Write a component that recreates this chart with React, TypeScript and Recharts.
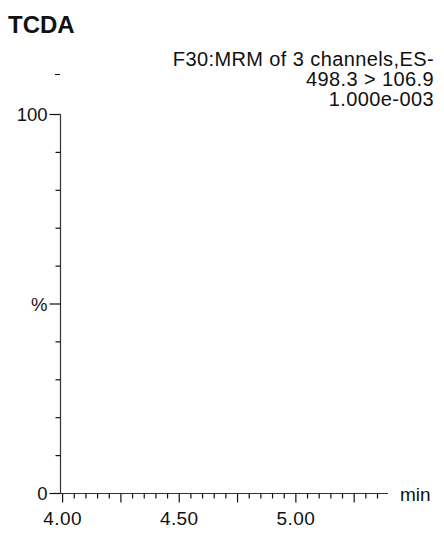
import { LineChart, Line, XAxis, YAxis, Label } from "recharts";

// chromatogram trace: no signal is drawn in this window
const TIMES = [4.0, 4.5, 5.0, 5.35];
const INTENSITY: (number | null)[] = [null, null, null, null];

const X_TICKS = [
  4.0, 4.05, 4.1, 4.15, 4.2, 4.25, 4.3, 4.35, 4.4, 4.45, 4.5, 4.55, 4.6, 4.65,
  4.7, 4.75, 4.8, 4.85, 4.9, 4.95, 5.0, 5.05, 5.1, 5.15, 5.2, 5.25, 5.3, 5.35,
];
const X_MAJOR = [4.0, 4.25, 4.5, 4.75, 5.0, 5.25];
const X_LABELS: Record<string, string> = { "4": "4.00", "4.5": "4.50", "5": "5.00" };

const Y_TICKS = [0, 10, 20, 30, 40, 50, 60, 70, 80, 90, 100];
const Y_LABELS: Record<string, string> = { "0": "0", "50": "%", "100": "100" };

const HEADER = ["F30:MRM of 3 channels,ES-", "498.3 > 106.9", "1.000e-003"];

const FONT = "'Liberation Sans', Arial, Helvetica, sans-serif";
const INK = "#111";
const AXIS = "#333";

const data = TIMES.map((t, i) => ({ t, v: INTENSITY[i] }));

function XTick({ x, y, payload }: { x: number; y: number; payload: { value: number } }) {
  const v = Math.round(payload.value * 100) / 100;
  const major = X_MAJOR.some((m) => Math.abs(m - v) < 1e-6);
  const label = X_LABELS[String(v)];
  return (
    <g>
      <line x1={x} x2={x} y1={y} y2={y + (major ? 9 : 5)} stroke={INK} strokeWidth={1.2} />
      {label && (
        <text
          x={x}
          y={y + 31}
          textAnchor="middle"
          fontSize={19}
          letterSpacing={0.4}
          fontFamily={FONT}
          fill={INK}
        >
          {label}
        </text>
      )}
    </g>
  );
}

function YTick({ x, y, payload }: { x: number; y: number; payload: { value: number } }) {
  const label = Y_LABELS[String(payload.value)];
  return (
    <g>
      <line x1={x - (label ? 11 : 5)} x2={x} y1={y} y2={y} stroke={INK} strokeWidth={1.2} />
      {label && (
        <text
          x={x - 13}
          y={y + 6.5}
          textAnchor="end"
          fontSize={18.5}
          fontFamily={FONT}
          fill={INK}
        >
          {label}
        </text>
      )}
    </g>
  );
}

export default function App() {
  return (
    <div
      style={{
        position: "absolute",
        left: 0,
        top: 0,
        width: 444,
        height: 540,
        background: "#fff",
        fontFamily: FONT,
        color: INK,
      }}
    >
      <LineChart
        width={444}
        height={540}
        data={data}
        margin={{ top: 114.5, right: 56, bottom: 45.5, left: 59.5 }}
      >
        <XAxis
          dataKey="t"
          type="number"
          domain={[3.991, 5.395]}
          ticks={X_TICKS}
          interval={0}
          height={1}
          tickSize={0}
          tickMargin={0}
          tickLine={false}
          axisLine={{ stroke: AXIS, strokeWidth: 1.2 }}
          tick={XTick}
          allowDataOverflow
        >
          <Label
            value="min"
            position="right"
            offset={12}
            style={{ fontSize: 19, fontFamily: FONT, fill: INK }}
          />
        </XAxis>
        <YAxis
          type="number"
          domain={[0, 100]}
          ticks={Y_TICKS}
          interval={0}
          width={1}
          tickSize={0}
          tickMargin={0}
          tickLine={false}
          axisLine={{ stroke: AXIS, strokeWidth: 1.2 }}
          tick={YTick}
          allowDataOverflow
        />
        <Line
          dataKey="v"
          stroke={INK}
          strokeWidth={1}
          dot={false}
          connectNulls={false}
          isAnimationActive={false}
        />
      </LineChart>

      <div
        style={{
          position: "absolute",
          left: 8,
          top: 12.5,
          fontSize: 24,
          lineHeight: "24px",
          fontWeight: 700,
        }}
      >
        TCDA
      </div>
      <div
        style={{
          position: "absolute",
          right: 10,
          top: 49,
          fontSize: 20,
          lineHeight: "20px",
          letterSpacing: 0.4,
          textAlign: "right",
        }}
      >
        {HEADER.map((h) => (
          <div key={h}>{h}</div>
        ))}
      </div>
      {/* stray mark above the intensity axis */}
      <div style={{ position: "absolute", left: 55, top: 74, width: 5, height: 1, background: INK }} />
    </div>
  );
}
